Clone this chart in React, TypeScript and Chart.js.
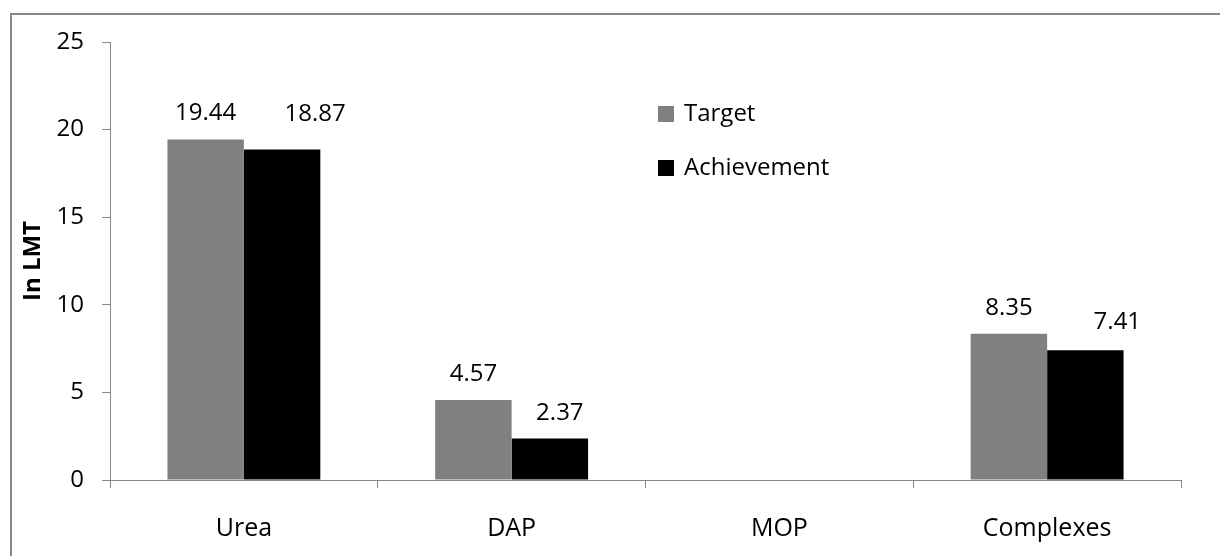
import React, { useEffect, useRef } from "react";
import { Chart, registerables } from "chart.js";

Chart.register(...registerables);

const categories = ["Urea", "DAP", "MOP", "Complexes"];
const targetValues: (number | null)[] = [19.44, 4.57, null, 8.35];
const achievementValues: (number | null)[] = [18.87, 2.37, null, 7.41];
const seriesNames = ["Target", "Achievement"];
const seriesColors = ["#808080", "#000000"];
const yMin = 0;
const yMax = 25;
const yStep = 5;
const yTitle = "In LMT";

const FONT = "'Open Sans', 'Noto Sans', sans-serif";
const AXIS = "#868686";

// label placement tweaks (per dataset, per category), in pixels
const labelDx = [
  [0, 0, 0, 0],
  [33, 10, 0, 32],
];
const labelDy = [
  [-26, -26, -26, -26],
  [-35, -25, -26, -28],
];

const valueLabels = {
  id: "valueLabels",
  afterDatasetsDraw(chart: any) {
    const ctx = chart.ctx;
    ctx.save();
    ctx.font = `24px ${FONT}`;
    ctx.fillStyle = "#000";
    ctx.textAlign = "center";
    ctx.textBaseline = "middle";
    chart.data.datasets.forEach((ds: any, di: number) => {
      const meta = chart.getDatasetMeta(di);
      meta.data.forEach((el: any, i: number) => {
        const v = ds.data[i];
        if (v === null || v === undefined) return;
        ctx.fillText(v.toFixed(2), el.x + labelDx[di][i], el.y + labelDy[di][i]);
      });
    });
    ctx.restore();
  },
};

const customLegend = {
  id: "customLegend",
  afterDraw(chart: any) {
    const ctx = chart.ctx;
    ctx.save();
    ctx.font = `24px ${FONT}`;
    ctx.textAlign = "left";
    ctx.textBaseline = "middle";
    const x0 = 658;
    const rows = [114, 168];
    chart.data.datasets.forEach((ds: any, di: number) => {
      const cy = rows[di];
      ctx.fillStyle = ds.backgroundColor;
      ctx.fillRect(x0, cy - 8, 16, 16);
      ctx.fillStyle = "#000";
      ctx.fillText(ds.label, x0 + 26, cy);
    });
    ctx.restore();
  },
};

export default function App() {
  const canvasRef = useRef<HTMLCanvasElement | null>(null);

  useEffect(() => {
    if (!canvasRef.current) return;
    const chart = new Chart(canvasRef.current, {
      type: "bar",
      data: {
        labels: categories,
        datasets: [
          {
            label: seriesNames[0],
            data: targetValues,
            backgroundColor: seriesColors[0],
            borderWidth: 0,
            categoryPercentage: 0.571,
            barPercentage: 1,
          },
          {
            label: seriesNames[1],
            data: achievementValues,
            backgroundColor: seriesColors[1],
            borderWidth: 0,
            categoryPercentage: 0.571,
            barPercentage: 1,
          },
        ],
      } as any,
      options: {
        animation: false,
        responsive: true,
        maintainAspectRatio: false,
        layout: { padding: { top: 42, right: 39, bottom: 0, left: 0 } },
        plugins: {
          legend: { display: false },
          tooltip: { enabled: false },
        },
        scales: {
          x: {
            grid: {
              display: true,
              drawOnChartArea: false,
              drawTicks: true,
              tickLength: 8,
              color: AXIS,
              offset: true,
            },
            border: { display: true, color: AXIS, width: 1 },
            ticks: { font: { family: FONT, size: 25 }, color: "#000", padding: 26 },
            afterFit: (s: any) => {
              s.height = 76;
            },
          },
          y: {
            min: yMin,
            max: yMax,
            ticks: { stepSize: yStep, font: { family: FONT, size: 24 }, color: "#000", padding: 18 },
            grid: { drawOnChartArea: false, drawTicks: true, tickLength: 8, color: AXIS },
            border: { display: true, color: AXIS, width: 1 },
            title: {
              display: true,
              text: yTitle,
              color: "#000",
              font: { family: FONT, size: 24, weight: "bold" },
              padding: { top: 19, bottom: 0 },
            },
            afterFit: (s: any) => {
              s.width = 110;
            },
          },
        },
      } as any,
      plugins: [valueLabels, customLegend],
    });
    return () => chart.destroy();
  }, []);

  return (
    <div
      style={{
        position: "fixed",
        left: 0,
        top: 0,
        width: 1220,
        height: 556,
        overflow: "hidden",
        background: "#fff",
      }}
    >
      <div
        style={{
          position: "absolute",
          left: 10,
          top: 13,
          width: 1400,
          height: 800,
          border: "2px solid #888888",
          boxSizing: "border-box",
        }}
      />
      <div style={{ position: "absolute", left: 0, top: 0, width: 1220, height: 556 }}>
        <canvas ref={canvasRef} />
      </div>
    </div>
  );
}
